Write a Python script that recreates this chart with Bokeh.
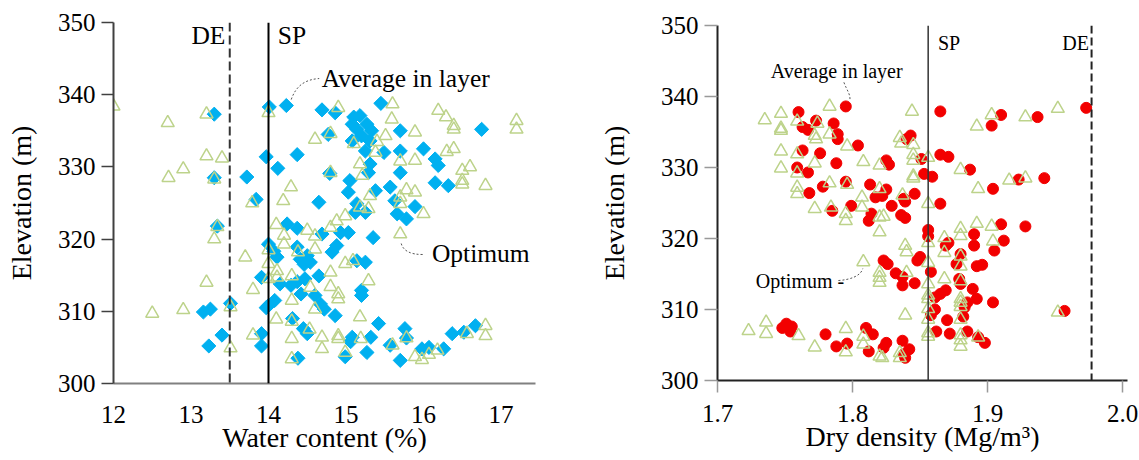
import math
from bokeh.plotting import figure
from bokeh.layouts import row, column
from bokeh.models import FixedTicker, Span, NumeralTickFormatter
from bokeh.core.properties import value
from bokeh.embed import file_html
from bokeh.resources import INLINE

FONT = "Liberation Serif"

# ---------------- Left panel: water content ----------------
wc_avg_x = [13.30, 14.01, 14.23, 13.97, 14.12, 14.37, 13.72, 13.30, 13.84, 14.24, 14.37, 13.34, 14.00,
            14.69, 14.86, 15.45, 15.10, 15.18, 15.08, 15.27, 15.14, 15.33, 15.20, 15.70, 16.75, 14.77,
            15.31, 15.08, 15.25, 15.49, 15.70, 16.00, 16.15, 16.19, 15.31, 15.29, 15.70, 14.79, 16.15,
            16.32, 15.05, 15.03, 15.38, 15.57, 14.65, 15.14, 15.63, 15.66, 15.89, 15.78, 15.25, 15.12,
            14.69, 14.93, 15.03, 15.35,
            14.11, 14.07, 13.91, 14.15, 14.29, 14.42, 14.08, 14.00, 13.97, 13.51, 13.25, 13.16, 14.31,
            13.40, 13.91, 13.23, 13.91, 14.38,
            14.37, 14.50, 14.65, 14.41, 14.46, 14.54, 14.47, 14.37, 14.82, 14.88, 15.25, 15.14, 14.60,
            14.67, 14.72, 15.20, 15.20, 14.86, 14.45, 14.50, 15.42, 15.08, 15.06, 15.32, 15.57, 15.76,
            15.78, 15.27, 14.99, 15.70, 15.98, 16.07, 16.26, 16.37, 16.52, 16.67]
wc_avg_y = [337.3, 338.3, 338.5, 331.4, 329.8, 331.7, 328.6, 328.5, 325.5, 322.1, 321.5, 321.8, 319.3,
            337.9, 337.5, 338.8, 336.9, 337.1, 335.9, 335.9, 335.2, 335.0, 334.3, 335.0, 335.2, 334.5,
            333.6, 333.6, 332.2, 332.0, 332.2, 332.5, 331.1, 330.2, 330.4, 329.2, 329.2, 329.1, 327.8,
            327.4, 328.1, 326.5, 326.7, 327.2, 325.1, 324.9, 325.3, 323.5, 324.5, 322.8, 323.7, 323.7,
            320.7, 320.9, 320.9, 320.2,
            317.5, 318.3, 314.7, 313.8, 313.6, 312.4, 311.5, 310.8, 310.5, 311.1, 310.3, 309.9, 309.0,
            306.7, 306.9, 305.2, 305.2, 303.5,
            318.9, 317.7, 314.9, 317.2, 316.5, 316.8, 314.5, 314.1, 318.2, 319.1, 316.8, 317.0, 312.2,
            311.0, 310.3, 312.9, 312.2, 309.4, 307.6, 306.9, 308.3, 306.4, 305.8, 306.4, 305.3, 307.6,
            306.3, 304.3, 303.7, 303.2, 304.8, 305.0, 304.8, 306.9, 307.1, 308.0]

wc_opt_x = [12.00, 12.70, 13.20, 14.00, 13.20, 13.40, 12.90, 12.71, 13.30, 14.29, 14.19, 13.79, 14.10,
            14.20, 13.34, 13.30,
            14.90, 15.60, 16.19, 16.29, 16.39, 16.39, 15.59, 15.89, 14.80, 14.60, 15.10, 15.40, 15.51,
            15.38, 16.30, 16.39, 15.70, 15.89, 15.18, 16.50, 16.60, 14.80, 15.21, 16.50, 16.50, 16.80,
            15.78, 15.89, 15.31, 15.70, 15.70, 15.18, 15.29, 16.00, 14.99, 14.88, 14.80, 15.70, 14.50,
            14.60, 17.20, 17.20,
            14.20, 14.00, 13.70, 14.00, 14.11, 14.11, 14.00, 14.30, 13.20, 13.80, 14.30, 13.51, 12.90,
            12.50, 14.10, 14.30, 13.80, 14.30, 13.51, 14.30,
            14.38, 14.60, 14.99, 15.09, 14.80, 15.29, 14.80, 14.90, 14.90, 14.54, 14.60, 15.18, 14.53,
            14.69, 14.69, 14.90, 14.90, 15.19, 14.99, 15.60, 15.78, 15.89, 15.98, 16.07, 16.18, 16.56,
            16.80, 16.80]
wc_opt_y = [338.4, 336.1, 337.3, 337.5, 331.5, 331.2, 329.7, 328.5, 328.3, 327.2, 325.3, 325.0, 322.0,
            320.5, 321.7, 320.0,
            338.2, 338.7, 337.8, 336.9, 335.7, 335.2, 336.6, 334.8, 334.6, 333.8, 333.2, 333.5, 334.3,
            332.0, 332.1, 332.5, 330.8, 330.9, 330.4, 329.5, 330.0, 329.2, 328.8, 328.1, 327.6, 327.4,
            326.8, 326.5, 326.0, 325.8, 324.9, 324.4, 324.2, 323.5, 323.2, 322.5, 321.6, 320.7, 321.2,
            320.4, 336.4, 335.2,
            319.3, 318.5, 317.5, 316.6, 315.6, 314.7, 314.5, 314.9, 314.0, 313.0, 311.5, 310.6, 310.2,
            309.7, 308.9, 308.6, 306.7, 306.2, 304.9, 303.4,
            318.2, 318.6, 316.6, 317.0, 315.4, 314.2, 313.4, 312.4, 311.7, 313.3, 310.3, 309.2, 307.5,
            306.4, 304.8, 306.6, 306.2, 306.2, 304.3, 305.3, 306.3, 303.7, 303.3, 304.0, 304.6, 306.9,
            308.0, 306.6]

wc_ticks_x = [12, 13, 14, 15, 16, 17]
elev_ticks = [300, 310, 320, 330, 340, 350]
wc_DE = 13.5
wc_SP = 14.0

# ---------------- Right panel: dry density ----------------
dd_avg_x = [1.795, 1.760, 1.773, 1.763, 1.767, 1.786, 1.789, 1.789, 1.804, 1.763, 1.776, 1.788, 1.825,
            1.759, 1.767, 1.778, 1.795, 1.768, 1.813, 1.825, 1.799, 1.785, 1.817, 1.822, 1.829, 1.814,
            1.812,
            1.865, 1.910, 1.937, 1.903, 1.973, 1.843, 1.840, 1.827, 1.851, 1.865, 1.871, 1.853, 1.859,
            1.887, 1.904, 1.923, 1.942, 1.838, 1.839, 1.846, 1.836, 1.839, 1.865, 1.856, 1.856, 1.910,
            1.928, 1.890, 1.912,
            1.823, 1.826, 1.751, 1.755, 1.748, 1.754, 1.780, 1.788, 1.796, 1.810, 1.815, 1.825, 1.823,
            1.812,
            1.890, 1.871, 1.869, 1.905, 1.848, 1.850, 1.858, 1.877, 1.880, 1.892, 1.896, 1.832, 1.837,
            1.837, 1.846, 1.879, 1.880, 1.889, 1.869, 1.865, 1.861, 1.892, 1.885, 1.904, 1.883, 1.861,
            1.858, 1.870, 1.882, 1.862, 1.872, 1.885, 1.893, 1.898, 1.957, 1.837, 1.842, 1.838, 1.839]
dd_avg_y = [338.6, 337.8, 336.6, 335.7, 335.3, 336.2, 334.7, 334.0, 333.1, 332.4, 332.0, 330.6, 331.0,
            330.0, 329.3, 327.3, 328.0, 326.4, 327.6, 326.9, 324.6, 323.9, 325.8, 326.0, 324.6, 323.5,
            322.5,
            337.9, 337.4, 337.1, 335.9, 338.4, 334.5, 334.0, 330.4, 331.2, 331.8, 331.5, 329.1, 328.7,
            329.7, 327.0, 328.3, 328.5, 325.6, 325.2, 326.3, 323.3, 322.9, 324.9, 321.2, 320.3, 322.0,
            321.7, 320.6, 319.7,
            316.9, 316.4, 308.0, 307.6, 307.4, 306.9, 306.5, 304.8, 305.2, 307.4, 306.5, 305.3, 304.6,
            304.1,
            319.0, 319.4, 319.0, 318.3, 316.9, 317.4, 315.3, 316.4, 317.8, 316.1, 316.3, 315.1, 314.6,
            313.4, 313.7, 314.3, 313.6, 312.9, 312.7, 312.2, 311.7, 311.5, 311.0, 311.0, 310.3, 310.0,
            309.2, 308.5, 309.0, 306.9, 306.6, 306.9, 306.1, 305.3, 309.8, 305.6, 304.4, 303.7, 303.2]

dd_opt_x = [1.735, 1.747, 1.783, 1.759, 1.747, 1.747, 1.774, 1.773, 1.783, 1.772, 1.796, 1.747, 1.759,
            1.772, 1.808, 1.820, 1.747, 1.759, 1.759, 1.759, 1.783, 1.796, 1.772, 1.784, 1.807, 1.807,
            1.820, 1.795, 1.795, 1.820, 1.820,
            1.844, 1.903, 1.928, 1.952, 1.892, 1.835, 1.836, 1.845, 1.845, 1.845, 1.856, 1.880, 1.845,
            1.845, 1.893, 1.916, 1.928, 1.837, 1.856, 1.823, 1.880, 1.892, 1.903, 1.868, 1.880,
            1.808, 1.820, 1.820, 1.820, 1.723, 1.736, 1.736, 1.760, 1.772, 1.795, 1.795, 1.808, 1.808,
            1.820,
            1.856, 1.904, 1.839, 1.840, 1.868, 1.880, 1.856, 1.880, 1.840, 1.868, 1.880, 1.856, 1.856,
            1.856, 1.880, 1.880, 1.880, 1.880, 1.856, 1.856, 1.839, 1.856, 1.856, 1.880, 1.880, 1.880,
            1.893, 1.835, 1.835, 1.822, 1.952]
dd_opt_y = [336.7, 337.6, 338.6, 336.5, 335.5, 335.2, 336.2, 334.0, 334.7, 334.5, 333.0, 332.3, 331.9,
            330.6, 330.8, 330.3, 329.9, 329.2, 327.2, 326.3, 327.8, 327.6, 324.2, 324.4, 324.4, 325.8,
            327.0, 323.5, 322.5, 323.0, 320.9,
            337.9, 337.4, 337.1, 338.3, 335.8, 334.2, 333.4, 333.2, 331.8, 331.0, 331.4, 329.7, 328.8,
            328.5, 327.0, 328.2, 328.5, 326.1, 324.9, 323.1, 321.4, 322.1, 321.7, 320.1, 320.4,
            316.7, 315.2, 314.5, 313.8, 307.0, 308.2, 306.6, 306.3, 304.7, 307.3, 304.0, 306.2, 305.1,
            303.4,
            319.4, 319.6, 319.0, 318.1, 318.0, 317.5, 316.6, 316.1, 315.2, 314.3, 314.0, 313.6, 312.0,
            311.5, 311.5, 311.0, 310.4, 308.6, 310.1, 308.6, 309.2, 306.7, 306.2, 306.4, 305.7, 304.8,
            306.1, 303.9, 303.2, 303.2, 309.6]

dd_ticks_x = [1.7, 1.8, 1.9, 2.0]
dd_SP = 1.856
dd_DE = 1.977

BLUE = "#00B0F0"
GREEN = "#BDD38B"
RED = "#F20000"


def style_axes(p, label_x, label_y):
    p.grid.visible = False
    p.outline_line_color = None
    p.background_fill_color = "white"
    p.border_fill_color = "white"
    for ax in (p.xaxis[0], p.yaxis[0]):
        ax.major_label_text_font = FONT
        ax.major_label_text_font_size = "25px"
        ax.major_label_text_color = "black"
        ax.axis_label_text_font = FONT
        ax.axis_label_text_font_size = "28px"
        ax.axis_label_text_font_style = "normal"
        ax.axis_label_text_color = "black"
        ax.minor_tick_line_color = None
        ax.major_tick_in = 0
    p.xaxis.axis_label = label_x
    p.yaxis.axis_label = label_y


# ---------------- Left figure ----------------
p1 = figure(frame_width=422, frame_height=361, x_range=(12, 17.445), y_range=(300, 350),
            min_border_left=113, min_border_right=35, min_border_top=22, min_border_bottom=77,
            title_location=None, output_backend="svg", toolbar_location=None)
style_axes(p1, "Water content (%)", "Elevation (m)")
p1.xaxis.ticker = FixedTicker(ticks=wc_ticks_x)
p1.yaxis.ticker = FixedTicker(ticks=elev_ticks)
p1.xaxis.major_tick_out = 0
p1.xaxis.major_tick_line_color = None
p1.xaxis.major_label_standoff = 22
p1.xaxis.axis_label_standoff = -4
p1.xaxis.axis_line_color = "#808080"
p1.xaxis.axis_line_width = 2
p1.yaxis.major_tick_out = 12
p1.yaxis.major_label_standoff = 6
p1.yaxis.axis_label_standoff = 18
p1.yaxis.axis_line_color = "#404040"
p1.yaxis.axis_line_width = 2
p1.yaxis.major_tick_line_color = "#404040"
p1.yaxis.major_tick_line_width = 1.5

p1.add_layout(Span(location=wc_DE, dimension="height", line_color="#333333",
                   line_width=2, line_dash="9 4"))
p1.add_layout(Span(location=wc_SP, dimension="height", line_color="black", line_width=2))

p1.scatter(wc_avg_x, wc_avg_y, marker="square", angle=math.pi / 4, size=10,
           fill_color=BLUE, line_color=BLUE)
p1.scatter(wc_opt_x, wc_opt_y, marker="triangle", size=13, fill_color=None,
           line_color=GREEN, line_width=1.5)

p1.text(x=[13.005, 14.12], y=[348.2, 348.2], text=["DE", "SP"], text_font=value(FONT),
        text_font_size="25.5px", text_align="left", text_baseline="middle", text_color="black")
p1.text(x=[14.686], y=[342.2], text=["Average in layer"], text_font=value(FONT),
        text_font_size="25.5px", text_align="left", text_baseline="middle", text_color="black")
p1.text(x=[16.108], y=[318.0], text=["Optimum"], text_font=value(FONT),
        text_font_size="25.5px", text_align="left", text_baseline="middle", text_color="black")
p1.bezier(x0=[14.293, 15.712], y0=[339.33, 319.39], x1=[14.654, 15.996], y1=[342.24, 317.87],
          cx0=[14.357, 15.738], cy0=[341.27, 318.40], cx1=[14.473, 15.828], cy1=[342.1, 317.84],
          line_color="#555555", line_width=1, line_dash="2 2")

# ---------------- Right figure ----------------
p2 = figure(frame_width=410, frame_height=355, x_range=(1.7, 2.0036), y_range=(300, 350),
            min_border_left=147, min_border_right=12, min_border_top=25, min_border_bottom=80,
            title_location=None, output_backend="svg", toolbar_location=None)
style_axes(p2, "Dry density (Mg/m³)", "Elevation (m)")
p2.xaxis.ticker = FixedTicker(ticks=dd_ticks_x)
p2.xaxis.formatter = NumeralTickFormatter(format="0.0")
p2.yaxis.ticker = FixedTicker(ticks=elev_ticks)
p2.xaxis.major_tick_out = 12
p2.xaxis.major_label_standoff = 12
p2.xaxis.axis_label_standoff = -4
p2.yaxis.major_tick_out = 13
p2.yaxis.major_label_standoff = 6
p2.yaxis.axis_label_standoff = 28
for ax in (p2.xaxis[0], p2.yaxis[0]):
    ax.axis_line_color = "#222222"
    ax.axis_line_width = 2
    ax.major_tick_line_color = "#999999"
    ax.major_tick_line_width = 1.5

p2.add_layout(Span(location=dd_SP, dimension="height", line_color="#333333", line_width=1.5))
p2.add_layout(Span(location=dd_DE, dimension="height", line_color="#222222",
                   line_width=2, line_dash="8 4"))

p2.scatter(dd_avg_x, dd_avg_y, marker="circle", size=11, fill_color=RED, line_color=RED)
p2.scatter(dd_opt_x, dd_opt_y, marker="triangle", size=13, fill_color=None,
           line_color=GREEN, line_width=1.5)

p2.text(x=[1.8632], y=[347.6], text=["SP"], text_font=value(FONT), text_font_size="20px",
        text_align="left", text_baseline="middle", text_color="black")
p2.text(x=[1.9751], y=[347.6], text=["DE"], text_font=value(FONT), text_font_size="20px",
        text_align="right", text_baseline="middle", text_color="black")
p2.text(x=[1.7395], y=[343.66], text=["Average in layer"], text_font=value(FONT),
        text_font_size="20px", text_align="left", text_baseline="middle", text_color="black")
p2.text(x=[1.7284], y=[314.0], text=["Optimum -"], text_font=value(FONT),
        text_font_size="20px", text_align="left", text_baseline="middle", text_color="black")
p2.bezier(x0=[1.7936, 1.7895], y0=[342.0, 314.08], x1=[1.798, 1.8076], y1=[339.44, 315.77],
          cx0=[1.7958, 1.7987], cy0=[340.85, 314.2], cx1=[1.7987, 1.8061], cy1=[340.28, 314.75],
          line_color="#555555", line_width=1, line_dash="2 2")

layout = row(column(p1), column(p2))
open("out.html", "w").write(file_html(layout, INLINE))
